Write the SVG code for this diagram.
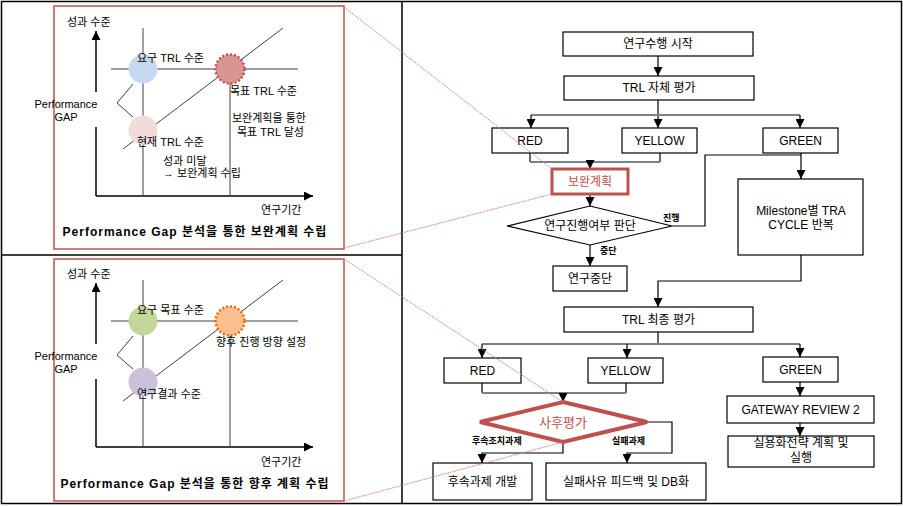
<svg xmlns="http://www.w3.org/2000/svg" width="903" height="506" viewBox="0 0 903 506">
<style>
text{font-family:"Liberation Sans","Noto Sans CJK KR",sans-serif;fill:#000}
.t{font-size:11px}
.f{font-size:12px;text-anchor:middle}
.s{font-size:9px;font-weight:bold}
.ttl{font-size:12px;font-weight:bold;text-anchor:middle;letter-spacing:1px}
.box{fill:#fff;stroke:#000;stroke-width:1.2}
.ln{fill:none;stroke:#000;stroke-width:1.2}
.bus{fill:none;stroke:#808080;stroke-width:2}
.ax{fill:none;stroke:#000;stroke-width:1.5}
.thin{fill:none;stroke:#404040;stroke-width:1}
.call{fill:none;stroke:#d47c7b;stroke-width:1;stroke-dasharray:1.5,1}
.red{fill:#fff;stroke:#c0504d}
.rt{fill:#c0504d}
</style>
<defs>
<marker id="ah" viewBox="0 0 10 10" refX="10" refY="5" markerWidth="9" markerHeight="9" markerUnits="userSpaceOnUse" orient="auto">
<path d="M0,0 L10,5 L0,10 z" fill="#000"/>
</marker>
</defs>
<g id="frame">
<rect x="1.5" y="1.5" width="900" height="502" fill="#fff" stroke="#000" stroke-width="1.5"/>
<line x1="402" y1="1.5" x2="402" y2="503.5" stroke="#000" stroke-width="1.5"/>
<line x1="1.5" y1="255" x2="402" y2="255" stroke="#000" stroke-width="1.5"/>
</g>
<g id="panel-top">
<rect x="54" y="6" width="290" height="243" fill="none" stroke="#c0504d" stroke-width="1.5"/>
<path class="ax" d="M96,196 V127 M96,92 V31" marker-end="url(#ah)"/>
<path class="ax" d="M96,196 H313" marker-end="url(#ah)"/>
<path class="thin" d="M143,28 V196 M111,69 H298 M230,69 V196 M123,149 L283,28"/>
<path class="thin" d="M133,84 L117,103 L133,117"/>
<circle cx="143" cy="69" r="14.5" fill="#c6d9f1"/>
<circle cx="143" cy="130" r="14.5" fill="#f2dcdb"/>
<circle cx="230" cy="69" r="14.5" fill="#d99594" stroke="#c0504d" stroke-width="2.5" stroke-dasharray="2,2"/>
<text class="t" x="67" y="26">성과 수준</text>
<text class="t" x="137" y="62">요구 TRL 수준</text>
<text class="t" x="230" y="95">목표 TRL 수준</text>
<text class="t" x="137" y="146">현재 TRL 수준</text>
<text class="t" x="232" y="122">보완계획을 통한</text>
<text class="t" x="237" y="136">목표 TRL 달성</text>
<text class="t" x="163" y="165">성과 미달</text>
<text class="t" x="163" y="177">→ 보완계획 수립</text>
<text class="t" x="261" y="214">연구기간</text>
<text class="t" x="66" y="108" text-anchor="middle">Performance</text>
<text class="t" x="66" y="121" text-anchor="middle">GAP</text>
<text class="ttl" x="195" y="236">Performance Gap 분석을 통한 보완계획 수립</text>
</g>
<g id="panel-bottom" transform="translate(0,252)">
<rect x="54" y="7" width="290" height="242" fill="none" stroke="#c0504d" stroke-width="1.5"/>
<path class="ax" d="M96,195 V127 M96,92 V31" marker-end="url(#ah)"/>
<path class="ax" d="M96,195 H313" marker-end="url(#ah)"/>
<path class="thin" d="M143,28 V195 M111,69 H298 M230,69 V195 M123,149 L283,28"/>
<path class="thin" d="M133,84 L117,103 L133,117"/>
<circle cx="143" cy="69" r="14.5" fill="#c3d69b"/>
<circle cx="143" cy="130" r="14.5" fill="#ccc1da"/>
<circle cx="230" cy="69" r="14.5" fill="#fac090" stroke="#e36c09" stroke-width="2.5" stroke-dasharray="2,2"/>
<text class="t" x="67" y="26">성과 수준</text>
<text class="t" x="137" y="62">요구 목표 수준</text>
<text class="t" x="216" y="94">향후 진행 방향 설정</text>
<text class="t" x="137" y="146">연구결과 수준</text>
<text class="t" x="261" y="214">연구기간</text>
<text class="t" x="66" y="108" text-anchor="middle">Performance</text>
<text class="t" x="66" y="121" text-anchor="middle">GAP</text>
<text class="ttl" x="195" y="236">Performance Gap 분석을 통한 향후 계획 수립</text>
</g>
<g id="connectors">
<path class="ln" d="M658,56 V76" marker-end="url(#ah)"/>
<path class="ln" d="M658,100 V128" marker-end="url(#ah)"/>
<path class="bus" d="M531,115 H800"/>
<path class="ln" d="M531,115 V128" marker-end="url(#ah)"/>
<path class="ln" d="M800,115 V128" marker-end="url(#ah)"/>
<path class="ln" d="M530,153 V162 M660,153 V162"/>
<path class="bus" d="M530,162 H660"/>
<path class="ln" d="M590,162 V169" marker-end="url(#ah)"/>
<path class="ln" d="M590,194 V206" marker-end="url(#ah)"/>
<path class="ln" d="M672,226 H705 V155 H801"/>
<path class="ln" d="M801,153 V179" marker-end="url(#ah)"/>
<path class="ln" d="M590,245 V266" marker-end="url(#ah)"/>
<path class="ln" d="M801,255 V281 H658 V307" marker-end="url(#ah)"/>
<path class="ln" d="M658,332 V344" stroke-width="2.5"/>
<path class="bus" d="M482,344 H800"/>
<path class="ln" d="M482,344 V358" marker-end="url(#ah)"/>
<path class="ln" d="M627,344 V358" marker-end="url(#ah)"/>
<path class="ln" d="M800,344 V357" marker-end="url(#ah)"/>
<path class="ln" d="M482,383 V393 M626,383 V393"/>
<path class="bus" d="M482,393 H626"/>
<path class="ln" d="M563,393 V402" marker-end="url(#ah)"/>
<path class="ln" d="M563,442 V453 H482 V463" marker-end="url(#ah)"/>
<path class="ln" d="M647,422 H672 V453 H627 V463" marker-end="url(#ah)"/>
<path class="ln" d="M800,382 V396" marker-end="url(#ah)"/>
<path class="ln" d="M800,423 V436" marker-end="url(#ah)"/>
<text class="s" x="663" y="221">진행</text>
<text class="s" x="600" y="254">중단</text>
<text class="s" x="472" y="444">후속조치과제</text>
<text class="s" x="612" y="444">실패과제</text>
</g>
<g id="n-start"><rect class="box" x="563" y="32" width="190" height="24"/><text class="f" x="658" y="48">연구수행 시작</text></g>
<g id="n-self"><rect class="box" x="564" y="76" width="190" height="24"/><text class="f" x="659" y="92">TRL 자체 평가</text></g>
<g id="n-red1"><rect class="box" x="492" y="128" width="76" height="25"/><text class="f" x="530" y="145">RED</text></g>
<g id="n-yellow1"><rect class="box" x="622" y="128" width="75" height="25"/><text class="f" x="659.5" y="145">YELLOW</text></g>
<g id="n-green1"><rect class="box" x="763" y="128" width="75" height="25"/><text class="f" x="800.5" y="145">GREEN</text></g>
<g id="n-plan"><rect class="red" x="552" y="169" width="76" height="25" stroke-width="3"/><text class="f rt" x="590" y="186">보완계획</text></g>
<g id="n-decide"><polygon class="box" points="590,206 672,226 590,245 507,226"/><text class="f" x="590" y="230">연구진행여부 판단</text></g>
<g id="n-stop"><rect class="box" x="553" y="266" width="74" height="25"/><text class="f" x="590" y="283">연구중단</text></g>
<g id="n-milestone"><rect class="box" x="738" y="179" width="125" height="76"/><text class="f" x="801" y="215">Milestone별 TRA</text><text class="f" x="801" y="229">CYCLE 반복</text></g>
<g id="n-final"><rect class="box" x="564" y="307" width="189" height="25"/><text class="f" x="658.5" y="324">TRL 최종 평가</text></g>
<g id="n-red2"><rect class="box" x="444" y="358" width="77" height="25"/><text class="f" x="482.5" y="375">RED</text></g>
<g id="n-yellow2"><rect class="box" x="588" y="358" width="75" height="25"/><text class="f" x="625.5" y="375">YELLOW</text></g>
<g id="n-green2"><rect class="box" x="763" y="357" width="75" height="25"/><text class="f" x="800.5" y="374">GREEN</text></g>
<g id="n-post"><polygon points="563,402 647,422 563,442 480,422" fill="#fff" stroke="#c0504d" stroke-width="4" stroke-linejoin="miter"/><text class="f rt" x="563" y="427" style="font-size:13px">사후평가</text></g>
<g id="n-gateway"><rect class="box" x="727" y="396" width="147" height="27"/><text class="f" x="800.5" y="414">GATEWAY REVIEW 2</text></g>
<g id="n-commercial"><rect class="box" x="728" y="436" width="146" height="31"/><text class="f" x="801" y="447">실용화전략 계획 및</text><text class="f" x="801" y="462">실행</text></g>
<g id="n-follow"><rect class="box" x="433" y="463" width="99" height="37"/><text class="f" x="482.5" y="486">후속과제 개발</text></g>
<g id="n-fail"><rect class="box" x="546" y="463" width="160" height="37"/><text class="f" x="626" y="486">실패사유 피드백 및 DB화</text></g>
<g id="callouts">
<path class="call" d="M344,7 L552,169 M344,248 L552,194 M344,259 L563,402 M344,501 L563,442"/>
</g>
</svg>
